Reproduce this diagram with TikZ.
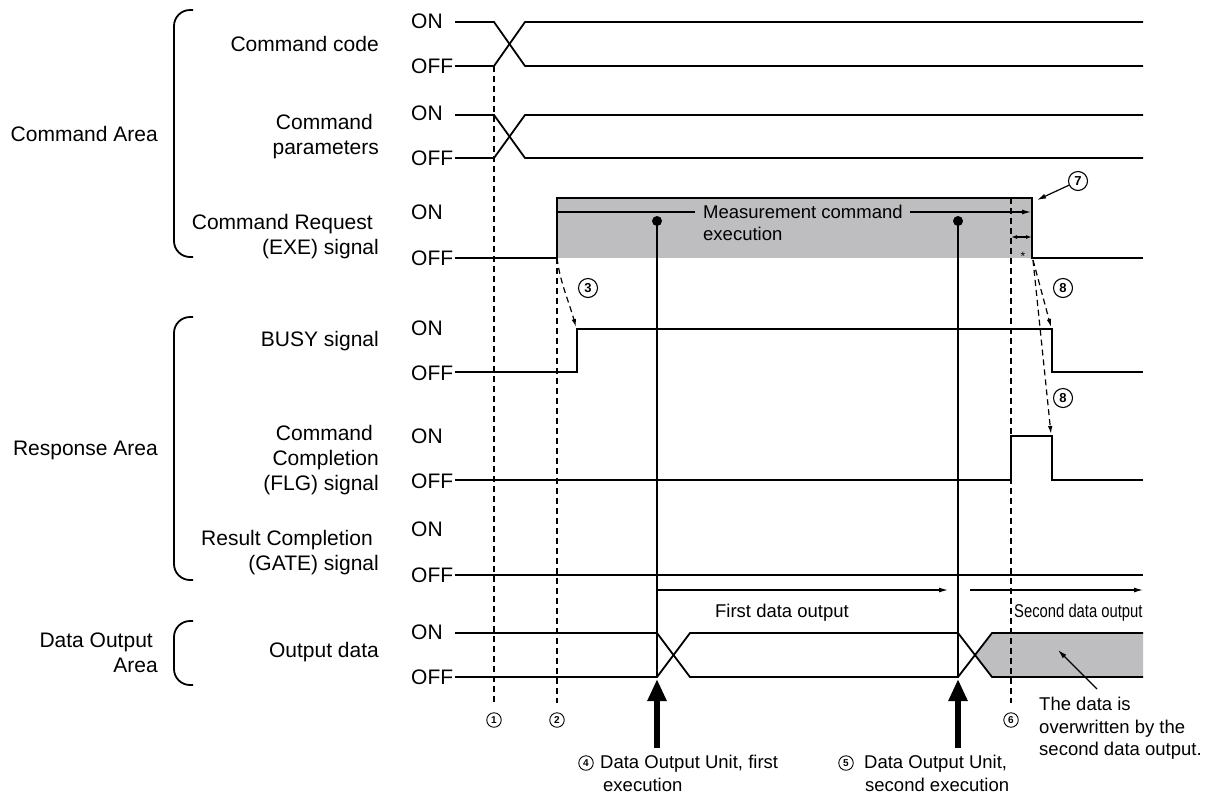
\documentclass[tikz,border=0pt]{standalone}
\usepackage{fontspec}
\setmainfont{Liberation Sans}
\usetikzlibrary{arrows.meta}
\definecolor{shadegray}{RGB}{190,190,193}
\begin{document}
\begin{tikzpicture}[x=1pt,y=-1pt,
  sig/.style={line width=1.8pt, line join=miter},
  thinln/.style={line width=1.2pt},
  dsh/.style={line width=1.2pt, dash pattern=on 6pt off 4pt},
  lbl/.style={font=\fontsize{21}{25}\selectfont, align=right, anchor=east, inner sep=0pt},
  onoff/.style={font=\fontsize{21}{25}\selectfont, anchor=west, inner sep=0pt},
  ann/.style={font=\fontsize{18.5}{22.5}\selectfont, inner sep=0pt},
  bigc/.style={circle, draw, line width=1.1pt, minimum size=19pt, inner sep=0pt, font=\fontsize{13}{13}\selectfont\bfseries},
  smc/.style={circle, draw, line width=0.9pt, minimum size=14.5pt, inner sep=0pt, font=\fontsize{10}{10}\selectfont\bfseries},
  brk/.style={line width=1.8pt, rounded corners=16pt},
  tipa/.style={-{Latex[length=9pt,width=5pt]}},
  tipd/.style={-{Latex[length=8pt,width=4.5pt]}},
  bigarrow/.style={line width=6pt, -{Triangle[length=22pt,width=18pt]}}
]
\useasboundingbox (0,0) rectangle (1209,796);

% ---------- group labels and brackets ----------
\node[lbl] (gcmd) at (158,134) {Command Area};
\node[lbl] (gresp) at (158,450) {Response Area};
\node[lbl] (gdata) at (158,653) {Data Output\hspace*{5pt}\\Area};
\draw[brk] (193,10) -- (174,10) -- (174,257) -- (193,257);
\draw[brk] (193,317) -- (174,317) -- (174,580) -- (193,580);
\draw[brk] (193,621) -- (174,621) -- (174,685) -- (193,685);

% ---------- signal labels ----------
\node[lbl] (lcc) at (379,44) {Command code};
\node[lbl] (lcp) at (379,137) {Command\hspace*{6pt}\\parameters};
\node[lbl] (lexe) at (379,237) {Command Request\hspace*{6pt}\\(EXE) signal};
\node[lbl] (lbusy) at (379,341) {BUSY signal};
\node[lbl] (lflg) at (379,460) {Command\hspace*{6pt}\\Completion\hspace*{6pt}\\(FLG) signal};
\node[lbl] (lgate) at (379,553) {Result Completion\hspace*{6pt}\\(GATE) signal};
\node[lbl] (lout) at (379,652) {Output data};

\foreach \n/\yon/\yoff in {cc/21/66, cp/113/158, exe/212/258, busy/328/373, flg/436/481, gate/529/575, out/632/677}{
  \node[onoff] (on\n) at (411,\yon) {ON};
  \node[onoff] (off\n) at (411,\yoff) {OFF};
}

% ---------- shaded areas ----------
\fill[shadegray] (557,198) rectangle (1032,258);
\fill[shadegray] (975,655) -- (992,633) -- (1143,633) -- (1143,677) -- (992,677) -- cycle;

% ---------- dashed timing lines ----------
\draw[dsh] (494,66) -- (494,703);
\draw[dsh] (557,258) -- (557,703);
\draw[dsh] (1011,198) -- (1011,703);

% ---------- signals ----------
% command code
\draw[sig] (455,22) -- (494,22) -- (525,66) -- (1143,66);
\draw[sig] (455,66) -- (494,66) -- (525,22) -- (1143,22);
% command parameters
\draw[sig] (455,115) -- (494,115) -- (525,158) -- (1143,158);
\draw[sig] (455,158) -- (494,158) -- (525,115) -- (1143,115);
% EXE
\draw[sig] (455,258) -- (557,258) -- (557,198) -- (1032,198) -- (1032,258) -- (1143,258);
% BUSY
\draw[sig] (455,372) -- (577,372) -- (577,329) -- (1052,329) -- (1052,372) -- (1143,372);
% FLG
\draw[sig] (455,480) -- (1011,480) -- (1011,436) -- (1052,436) -- (1052,480) -- (1143,480);
% GATE
\draw[sig] (455,575) -- (1143,575);
% output data
\draw[sig] (455,633) -- (657,633) -- (690,677) -- (958,677) -- (992,633) -- (1143,633);
\draw[sig] (455,677) -- (657,677) -- (690,633) -- (958,633) -- (992,677) -- (1143,677);

% ---------- measurement command execution ----------
\node[ann, anchor=north west, align=left, font=\fontsize{18.5}{21.5}\selectfont] (mce) at (703,205) {Measurement command\\execution};
\coordinate (mleft) at (557,212);
\coordinate (mlend) at (695,212);
\coordinate (mrbeg) at (910,212);
\coordinate (mright) at (1031,212);
\draw[thinln] (mleft) -- (mlend);
\draw[thinln, tipa] (mrbeg) -- (mright);
\fill (657,221) circle (5);
\fill (958,221) circle (5);
\draw[thinln] (657,221) -- (657,677);
\draw[thinln] (958,221) -- (958,677);

% small interval arrow and star
\coordinate (sa) at (1011,237);
\coordinate (sb) at (1032,237);
\draw[thinln, {Latex[length=6pt,width=4pt]}-{Latex[length=6pt,width=4pt]}] (sa) -- (sb);
\node[inner sep=0pt, font=\fontsize{12}{12}\selectfont] (star) at (1023,256) {*};

% callout 7
\node[bigc] (c7) at (1078,181) {7};
\coordinate (t7) at (1037,200);
\draw[thinln, tipa] (c7) -- (t7);

% callouts 3 and 8 with dashed arrows
\node[bigc] (c3) at (588,288) {3};
\node[bigc] (c8a) at (1063,288) {8};
\node[bigc] (c8b) at (1063,398) {8};
\coordinate (e3s) at (557,258);
\coordinate (e3t) at (576,327);
\draw[dsh, tipd] (e3s) .. controls (560,282) and (569,302) .. (e3t);
\coordinate (e8s) at (1033,260);
\coordinate (e8t) at (1051,327);
\coordinate (e8u) at (1051,434);
\draw[dsh, tipd] (e8s) -- (e8t);
\draw[dsh, tipd] (e8s) -- (e8u);

% ---------- data output arrows ----------
\coordinate (d1s) at (657,590);
\coordinate (d1e) at (948,590);
\coordinate (d2s) at (970,590);
\coordinate (d2e) at (1143,590);
\draw[thinln, tipa] (d1s) -- (d1e);
\draw[thinln, tipa] (d2s) -- (d2e);
\node[ann] (fdo) at (782,613) {First data output};
\node[ann, anchor=west] (sdo) at (1014,613) {\scalebox{0.8}[1]{Second data output}};

% overwritten note
\node[ann, anchor=north west, align=left] (ovw) at (1039,697) {The data is\\overwritten by the\\second data output.};
\coordinate (ovt) at (1058,650);
\coordinate (ovs) at (1097,689);
\draw[thinln, tipa] (ovs) -- (ovt);

% ---------- thick arrows ----------
\coordinate (a4s) at (657,748);
\coordinate (a4t) at (657,679);
\coordinate (a5s) at (958,748);
\coordinate (a5t) at (958,679);
\draw[bigarrow] (a4s) -- (a4t);
\draw[bigarrow] (a5s) -- (a5t);

% bottom circled numbers
\node[smc] (n1) at (494,720) {1};
\node[smc] (n2) at (557,720) {2};
\node[smc] (n6) at (1011,720) {6};
\node[smc] (n4) at (586,763) {4};
\node[smc] (n5) at (846,763) {5};
\node[ann, anchor=north west, align=left] (t4) at (600,755) {Data Output Unit, first\\\hspace*{3pt}execution};
\node[ann, anchor=north west, align=left] (t5) at (864,755) {Data Output Unit,\\\hspace*{1pt}second execution};
\end{tikzpicture}
\end{document}
